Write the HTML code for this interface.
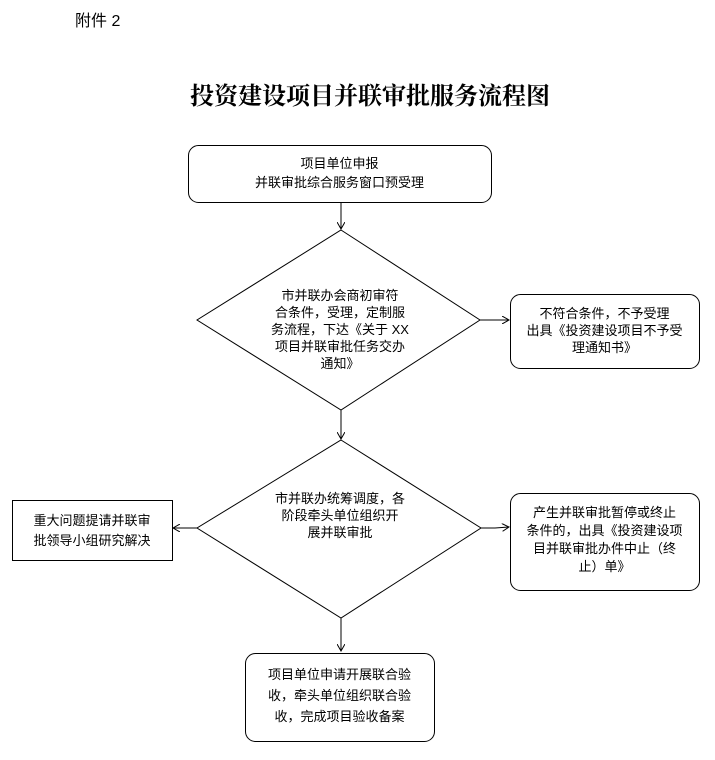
<!DOCTYPE html>
<html><head><meta charset="utf-8"><style>
body{margin:0;background:#fff;}
.w{position:relative;width:715px;height:760px;font-family:"Liberation Sans","Noto Sans CJK SC",sans-serif;color:#000;}
.t{position:absolute;font-size:13px;line-height:17px;text-align:center;}
</style></head><body><div class="w">
<div style="position:absolute;left:75px;top:7px;font-size:16px;">附件 2</div>
<div style="position:absolute;left:190px;width:360px;top:76px;text-align:left;font-size:24px;font-weight:bold;white-space:nowrap;font-family:'Noto Serif CJK SC','Noto Sans CJK SC',serif;">投资建设项目并联审批服务流程图</div>
<svg width="715" height="760" style="position:absolute;left:0;top:0" fill="none" stroke="#000" stroke-width="1">
<defs><marker id="a" markerWidth="8" markerHeight="8" refX="7" refY="4" orient="auto"><path d="M0,0 L7,4 L0,8" stroke="#000" fill="none"/></marker></defs>
<rect x="188.5" y="145.5" width="303" height="57" rx="10"/>
<line x1="341" y1="203" x2="341" y2="229" marker-end="url(#a)"/>
<polygon points="341,230 480,320 341,410 197,320"/>
<line x1="480" y1="320" x2="509" y2="320" marker-end="url(#a)"/>
<rect x="510.5" y="294.5" width="189" height="74" rx="10"/>
<line x1="341" y1="410" x2="341" y2="439" marker-end="url(#a)"/>
<polygon points="341,440 481,528 341,618 197,528"/>
<line x1="197" y1="528" x2="173" y2="528" marker-end="url(#a)"/>
<rect x="12.5" y="500.5" width="160" height="60"/>
<polyline points="481,528 495,528 509,527" marker-end="url(#a)"/>
<rect x="510.5" y="493.5" width="189" height="97" rx="10"/>
<line x1="341" y1="618" x2="341" y2="651" marker-end="url(#a)"/>
<rect x="245.5" y="653.5" width="189" height="88" rx="10"/>
</svg>
<div class="t" style="left:188px;width:303px;top:154px;line-height:19px;">项目单位申报<br>并联审批综合服务窗口预受理</div>
<div class="t" style="left:260px;width:160px;top:287px;">市并联办会商初审符<br>合条件，受理，定制服<br>务流程，下达《关于 XX<br>项目并联审批任务交办<br>通知》</div>
<div class="t" style="left:510px;width:189px;top:305px;">不符合条件，不予受理<br>出具《投资建设项目不予受<br>理通知书》</div>
<div class="t" style="left:260px;width:160px;top:490px;">市并联办统筹调度，各<br>阶段牵头单位组织开<br>展并联审批</div>
<div class="t" style="left:12px;width:160px;top:511px;line-height:20px;">重大问题提请并联审<br>批领导小组研究解决</div>
<div class="t" style="left:510px;width:189px;top:504px;line-height:18px;">产生并联审批暂停或终止<br>条件的，出具《投资建设项<br>目并联审批办件中止（终<br>止）单》</div>
<div class="t" style="left:245px;width:189px;top:664px;line-height:21px;">项目单位申请开展联合验<br>收，牵头单位组织联合验<br>收，完成项目验收备案</div>
</div></body></html>
